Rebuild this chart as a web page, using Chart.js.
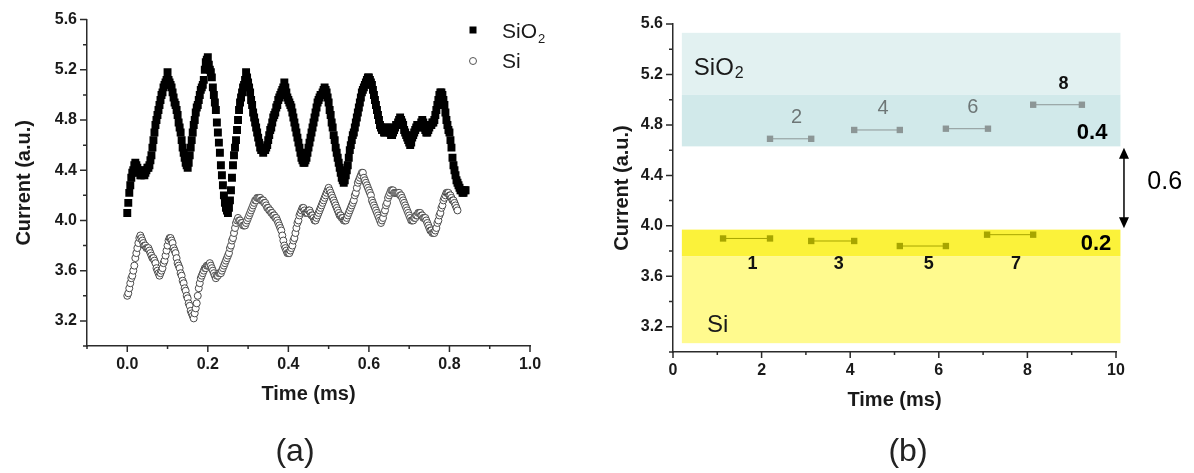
<!DOCTYPE html>
<html>
<head>
<meta charset="utf-8">
<title>Current vs time for SiO2 and Si</title>
<script src="https://cdn.jsdelivr.net/npm/chart.js@4/dist/chart.umd.min.js"></script>
<style>
  body { margin: 0; background: #fff; }
  #wrapA { position: absolute; left: 0; top: 0; width: 590px; height: 473px; }
  #wrapB { position: absolute; left: 590px; top: 0; width: 604px; height: 473px; }
</style>
</head>
<body>
<div id="wrapA"><canvas id="chartA" width="590" height="473"></canvas></div>
<div id="wrapB"><canvas id="chartB" width="604" height="473"></canvas></div>
<script>
// ---- panel (a): current traces, one reading every 0.0025 ms from t = 0
const sampleStep = 0.0025
const sio2Current = [
  4.06, 4.14, 4.22, 4.28, 4.34, 4.38, 4.40, 4.44, 4.46, 4.44,
  4.42, 4.40, 4.38, 4.36, 4.36, 4.38, 4.40, 4.36, 4.38, 4.40,
  4.42, 4.42, 4.44, 4.48, 4.52, 4.58, 4.64, 4.70, 4.76, 4.80,
  4.84, 4.88, 4.92, 4.96, 5.00, 5.02, 5.06, 5.08, 5.10, 5.12,
  5.18, 5.12, 5.10, 5.08, 5.06, 5.02, 4.98, 4.94, 4.92, 4.88,
  4.84, 4.78, 4.74, 4.70, 4.64, 4.58, 4.54, 4.50, 4.46, 4.44,
  4.42, 4.46, 4.52, 4.58, 4.64, 4.70, 4.76, 4.80, 4.86, 4.90,
  4.92, 4.96, 5.00, 5.04, 5.06, 5.08, 5.12, 5.20, 5.26, 5.28,
  5.30, 5.24, 5.20, 5.18, 5.14, 5.06, 5.00, 4.94, 4.88, 4.78,
  4.70, 4.62, 4.54, 4.44, 4.36, 4.28, 4.20, 4.14, 4.10, 4.08,
  4.06, 4.10, 4.16, 4.24, 4.34, 4.44, 4.52, 4.58, 4.64, 4.72,
  4.80, 4.88, 4.94, 4.98, 5.02, 5.06, 5.08, 5.12, 5.18, 5.14,
  5.10, 5.06, 5.02, 4.96, 4.92, 4.86, 4.82, 4.78, 4.74, 4.70,
  4.66, 4.62, 4.58, 4.56, 4.56, 4.54, 4.56, 4.56, 4.58, 4.60,
  4.64, 4.68, 4.72, 4.74, 4.78, 4.82, 4.84, 4.86, 4.90, 4.92,
  4.96, 4.98, 5.00, 5.02, 5.04, 5.06, 5.10, 5.06, 5.02, 4.98,
  4.96, 4.94, 4.92, 4.90, 4.86, 4.82, 4.78, 4.74, 4.70, 4.66,
  4.62, 4.58, 4.54, 4.50, 4.48, 4.46, 4.46, 4.48, 4.50, 4.54,
  4.58, 4.62, 4.66, 4.70, 4.74, 4.78, 4.82, 4.86, 4.90, 4.94,
  4.96, 4.98, 5.00, 5.00, 5.02, 5.04, 5.06, 5.04, 5.02, 4.98,
  4.94, 4.88, 4.84, 4.78, 4.74, 4.68, 4.64, 4.58, 4.54, 4.50,
  4.46, 4.42, 4.38, 4.34, 4.32, 4.30, 4.32, 4.36, 4.40, 4.44,
  4.50, 4.56, 4.60, 4.64, 4.68, 4.70, 4.74, 4.78, 4.82, 4.86,
  4.90, 4.94, 4.98, 5.02, 5.04, 5.06, 5.08, 5.10, 5.12, 5.14,
  5.14, 5.12, 5.10, 5.08, 5.04, 5.00, 4.96, 4.92, 4.88, 4.84,
  4.80, 4.76, 4.74, 4.72, 4.72, 4.70, 4.70, 4.72, 4.74, 4.74,
  4.72, 4.70, 4.68, 4.68, 4.70, 4.72, 4.74, 4.76, 4.76, 4.78,
  4.80, 4.82, 4.80, 4.78, 4.76, 4.72, 4.70, 4.68, 4.66, 4.64,
  4.62, 4.60, 4.62, 4.66, 4.68, 4.70, 4.72, 4.74, 4.76, 4.76,
  4.74, 4.76, 4.78, 4.80, 4.78, 4.74, 4.72, 4.70, 4.70, 4.72,
  4.74, 4.76, 4.76, 4.78, 4.78, 4.80, 4.84, 4.88, 4.92, 4.96,
  5.00, 5.02, 5.02, 5.00, 4.96, 4.92, 4.86, 4.80, 4.76, 4.72,
  4.70, 4.64, 4.58, 4.50, 4.44, 4.40, 4.36, 4.32, 4.30, 4.28,
  4.26, 4.24, 4.24, 4.22, 4.22, 4.24, 4.24
]
const siCurrent = [
  3.40, 3.42, 3.46, 3.50, 3.54, 3.56, 3.60, 3.64, 3.70, 3.74,
  3.78, 3.82, 3.86, 3.88, 3.86, 3.84, 3.82, 3.80, 3.80, 3.78,
  3.78, 3.78, 3.76, 3.74, 3.72, 3.70, 3.70, 3.68, 3.66, 3.62,
  3.60, 3.58, 3.56, 3.58, 3.60, 3.62, 3.66, 3.68, 3.72, 3.76,
  3.80, 3.84, 3.86, 3.86, 3.84, 3.82, 3.78, 3.76, 3.74, 3.70,
  3.66, 3.64, 3.62, 3.58, 3.56, 3.52, 3.50, 3.46, 3.44, 3.40,
  3.38, 3.34, 3.32, 3.28, 3.26, 3.24, 3.22, 3.26, 3.30, 3.34,
  3.40, 3.46, 3.50, 3.54, 3.56, 3.58, 3.60, 3.62, 3.62, 3.64,
  3.64, 3.64, 3.66, 3.64, 3.62, 3.60, 3.58, 3.56, 3.54, 3.56,
  3.56, 3.58, 3.58, 3.58, 3.60, 3.62, 3.64, 3.66, 3.68, 3.70,
  3.72, 3.74, 3.78, 3.80, 3.84, 3.86, 3.90, 3.94, 3.98, 4.00,
  4.02, 4.00, 4.00, 3.98, 3.98, 3.96, 3.96, 3.96, 3.98, 4.00,
  4.02, 4.04, 4.06, 4.08, 4.10, 4.12, 4.14, 4.16, 4.16, 4.18,
  4.18, 4.18, 4.18, 4.16, 4.16, 4.16, 4.14, 4.14, 4.12, 4.10,
  4.10, 4.08, 4.08, 4.06, 4.06, 4.04, 4.04, 4.02, 4.02, 4.00,
  3.98, 3.96, 3.94, 3.92, 3.88, 3.84, 3.80, 3.78, 3.76, 3.74,
  3.74, 3.74, 3.76, 3.78, 3.80, 3.84, 3.86, 3.90, 3.94, 3.98,
  4.00, 4.04, 4.06, 4.08, 4.10, 4.10, 4.08, 4.06, 4.06, 4.06,
  4.08, 4.08, 4.06, 4.04, 4.04, 4.02, 4.00, 4.00, 4.02, 4.04,
  4.06, 4.08, 4.10, 4.12, 4.14, 4.16, 4.18, 4.20, 4.22, 4.24,
  4.26, 4.24, 4.22, 4.20, 4.18, 4.16, 4.14, 4.12, 4.10, 4.08,
  4.06, 4.04, 4.04, 4.02, 4.02, 4.00, 4.00, 4.00, 4.02, 4.04,
  4.06, 4.08, 4.10, 4.12, 4.14, 4.16, 4.20, 4.22, 4.26, 4.30,
  4.32, 4.34, 4.36, 4.38, 4.38, 4.34, 4.32, 4.30, 4.28, 4.26,
  4.24, 4.22, 4.20, 4.16, 4.14, 4.12, 4.10, 4.08, 4.06, 4.04,
  4.02, 4.00, 3.98, 4.00, 4.02, 4.06, 4.08, 4.12, 4.14, 4.18,
  4.20, 4.22, 4.24, 4.24, 4.24, 4.22, 4.22, 4.22, 4.22, 4.22,
  4.22, 4.20, 4.20, 4.18, 4.16, 4.14, 4.12, 4.10, 4.08, 4.06,
  4.04, 4.02, 4.00, 4.00, 4.00, 4.02, 4.02, 4.04, 4.04, 4.06,
  4.06, 4.06, 4.04, 4.04, 4.02, 4.02, 4.02, 4.00, 3.98, 3.96,
  3.94, 3.92, 3.92, 3.90, 3.90, 3.90, 3.92, 3.94, 3.98, 4.00,
  4.04, 4.06, 4.10, 4.12, 4.16, 4.18, 4.20, 4.22, 4.22, 4.22,
  4.20, 4.20, 4.18, 4.16, 4.16, 4.14, 4.12, 4.10, 4.08
]

// ---- panel (b): mean current per interval, and the spread bands
const segmentNames = ['1', '2', '3', '4', '5', '6', '7', '8']
const segmentStart = [1.13, 2.19, 3.12, 4.09, 5.12, 6.16, 7.09, 8.13]
const segmentEnd = [2.19, 3.12, 4.09, 5.12, 6.16, 7.11, 8.13, 9.23]
const segmentCurrent = [3.90, 4.69, 3.88, 4.76, 3.84, 4.77, 3.93, 4.96]
const bandLow = [5.04, 4.63, 3.76, 3.07]
const bandHigh = [5.53, 5.04, 3.97, 3.76]
const bandFrom = 0.2
const bandTo = 10.1
const spreadLabels = ['0.4', '0.2']
const gapLabel = '0.6'

// styles
const axisColor = '#2b2b2b'
const textColor = '#1a1a1a'
const fontFamily = 'Arial, "Liberation Sans", sans-serif'
const tickFont = { family: fontFamily, size: 16, weight: 'bold' }
const titleFont = { family: fontFamily, size: 20, weight: 'bold' }
const bandColors = ['#e2f1f1', '#d1e9ea', '#fbf23a', '#fffa8e']
const segmentColors = ['#a7a500', '#8c9696']
const segmentLabelColors = ['#111', '#6d7676', '#111', '#6d7676', '#111', '#6d7676', '#111', '#111']

function majorOnly(origin, step, digits) {
  return function (value) {
    const k = Math.round((value - origin) / step)
    return Math.abs(value - origin - k * step) < 1e-6 ? value.toFixed(digits) : ''
  }
}

// short outward tick marks, long ones where a label is shown
const tickMarks = {
  id: 'tickMarks',
  afterDraw(chart) {
    const { ctx, chartArea, scales } = chart
    ctx.save()
    ctx.strokeStyle = axisColor
    ctx.lineWidth = 1.5
    ctx.beginPath()
    scales.x.ticks.forEach(t => {
      const px = scales.x.getPixelForValue(t.value)
      ctx.moveTo(px, chartArea.bottom)
      ctx.lineTo(px, chartArea.bottom + (t.label ? 6 : 3))
    })
    scales.y.ticks.forEach(t => {
      const py = scales.y.getPixelForValue(t.value)
      ctx.moveTo(chartArea.left, py)
      ctx.lineTo(chartArea.left - (t.label ? 7 : 4), py)
    })
    ctx.stroke()
    ctx.restore()
  }
}

function subText(ctx, main, sub, x, y, size, subSize, subDrop) {
  ctx.font = size + 'px ' + fontFamily
  ctx.fillText(main, x, y)
  const w = ctx.measureText(main).width
  ctx.font = subSize + 'px ' + fontFamily
  ctx.fillText(sub, x + w + 1, y + subDrop)
}

function axes(opts) {
  return {
    x: {
      type: 'linear', min: opts.xMin, max: opts.xMax,
      ticks: { stepSize: opts.xStep, autoSkip: false, maxRotation: 0, padding: 9, color: textColor, font: tickFont, callback: opts.xLabel },
      grid: { display: false, drawTicks: false },
      border: { display: true, color: axisColor, width: 1.5 },
      title: { display: true, text: 'Time (ms)', color: textColor, font: titleFont, padding: { top: 0, bottom: opts.xTitlePad } },
      afterFit: s => { s.height = opts.xHeight }
    },
    y: {
      type: 'linear', min: 3.0, max: 5.6,
      ticks: { stepSize: 0.2, autoSkip: false, padding: 10, color: textColor, font: tickFont, callback: majorOnly(3.2, 0.4, 1) },
      grid: { display: false, drawTicks: false },
      border: { display: true, color: axisColor, width: 1.5 },
      title: { display: true, text: 'Current (a.u.)', color: textColor, font: titleFont, padding: { top: opts.yTitlePad, bottom: 0 } },
      afterFit: s => { s.width = opts.yWidth }
    }
  }
}

// ---------- chart (a)
const panelA = {
  id: 'panelA',
  afterDraw(chart) {
    const ctx = chart.ctx
    ctx.save()
    ctx.fillStyle = '#000'
    ctx.fillRect(469.5, 26.5, 7, 7)
    ctx.fillStyle = '#fff'
    ctx.strokeStyle = '#555'
    ctx.lineWidth = 1
    ctx.beginPath()
    ctx.arc(473, 61, 3.5, 0, Math.PI * 2)
    ctx.fill()
    ctx.stroke()
    ctx.fillStyle = textColor
    ctx.textBaseline = 'alphabetic'
    subText(ctx, 'SiO', '2', 502, 38, 21, 13, 5)
    ctx.font = '21px ' + fontFamily
    ctx.fillText('Si', 502, 68)
    ctx.font = '32px ' + fontFamily
    ctx.fillStyle = '#222'
    ctx.textAlign = 'center'
    ctx.textBaseline = 'middle'
    ctx.fillText('(a)', 295, 452)
    ctx.restore()
  }
}

new Chart(document.getElementById('chartA'), {
  type: 'scatter',
  data: {
    datasets: [
      {
        label: 'SiO2',
        data: sio2Current.map((v, i) => ({ x: i * sampleStep, y: v })),
        pointStyle: 'rect', pointRadius: 5.6, borderWidth: 0,
        backgroundColor: '#000', borderColor: '#000'
      },
      {
        label: 'Si',
        data: siCurrent.map((v, i) => ({ x: i * sampleStep, y: v })),
        pointStyle: 'circle', pointRadius: 3.5, borderWidth: 1,
        backgroundColor: '#fff', borderColor: '#4a4a4a'
      }
    ]
  },
  options: {
    responsive: false,
    animation: false,
    layout: { padding: { left: 0, right: 60, top: 19, bottom: 60 } },
    plugins: { legend: { display: false }, tooltip: { enabled: false } },
    scales: axes({
      xMin: -0.1, xMax: 1.0, xStep: 0.1, xLabel: majorOnly(0, 0.2, 1),
      xHeight: 67, xTitlePad: 7, yWidth: 87, yTitlePad: 12
    })
  },
  plugins: [tickMarks, panelA]
})

// ---------- chart (b)
const panelB = {
  id: 'panelB',
  beforeDatasetsDraw(chart) {
    const { ctx, scales: { x, y } } = chart
    ctx.save()
    bandLow.forEach((lo, i) => {
      const x0 = x.getPixelForValue(bandFrom)
      const x1 = x.getPixelForValue(bandTo)
      const y0 = y.getPixelForValue(bandHigh[i])
      const y1 = y.getPixelForValue(lo)
      ctx.fillStyle = bandColors[i]
      ctx.fillRect(x0, y0, x1 - x0, y1 - y0)
    })
    ctx.restore()
  },
  afterDraw(chart) {
    const { ctx, scales: { x, y } } = chart
    ctx.save()
    ctx.fillStyle = textColor
    ctx.textBaseline = 'alphabetic'
    subText(ctx, 'SiO', '2', x.getPixelForValue(0.47), y.getPixelForValue(5.195), 24, 16, 3)
    ctx.font = '24px ' + fontFamily
    ctx.fillText('Si', x.getPixelForValue(0.77), y.getPixelForValue(3.16))

    // interval numbers
    ctx.textAlign = 'center'
    ctx.textBaseline = 'middle'
    segmentNames.forEach((name, i) => {
      const mid = x.getPixelForValue((segmentStart[i] + segmentEnd[i]) / 2) + 6
      const upper = segmentCurrent[i] > 4.3
      const py = upper ? y.getPixelForValue(segmentCurrent[i]) - 21 : y.getPixelForValue(3.76) + 8
      ctx.fillStyle = segmentLabelColors[i]
      ctx.font = (segmentLabelColors[i] === '#111' ? 'bold 18px ' : '20px ') + fontFamily
      ctx.fillText(name, mid, py)
    })

    // spread widths
    ctx.fillStyle = '#000'
    ctx.font = 'bold 22px "Liberation Sans Narrow", ' + fontFamily
    ctx.fillText(spreadLabels[0], x.getPixelForValue(9.46), y.getPixelForValue(4.74))
    ctx.fillText(spreadLabels[1], x.getPixelForValue(9.55), y.getPixelForValue(3.86))

    // gap between the bands
    const ax = x.getPixelForValue(10.18)
    const top = y.getPixelForValue(4.62)
    const bot = y.getPixelForValue(3.98)
    ctx.strokeStyle = '#000'
    ctx.lineWidth = 1.5
    ctx.beginPath()
    ctx.moveTo(ax, top + 8)
    ctx.lineTo(ax, bot - 8)
    ctx.stroke()
    ctx.beginPath()
    ctx.moveTo(ax, top); ctx.lineTo(ax - 5, top + 11); ctx.lineTo(ax + 5, top + 11); ctx.closePath()
    ctx.moveTo(ax, bot); ctx.lineTo(ax - 5, bot - 11); ctx.lineTo(ax + 5, bot - 11); ctx.closePath()
    ctx.fill()
    ctx.font = '25px ' + fontFamily
    ctx.fillText(gapLabel, x.getPixelForValue(11.1), y.getPixelForValue(4.35))

    ctx.font = '32px ' + fontFamily
    ctx.fillStyle = '#222'
    ctx.fillText('(b)', 318, 452)
    ctx.restore()
  }
}

new Chart(document.getElementById('chartB'), {
  type: 'scatter',
  data: {
    datasets: segmentNames.map((name, i) => {
      const c = segmentCurrent[i] > 4.3 ? segmentColors[1] : segmentColors[0]
      return {
        label: 'Interval ' + name,
        data: [{ x: segmentStart[i], y: segmentCurrent[i] }, { x: segmentEnd[i], y: segmentCurrent[i] }],
        showLine: true, borderWidth: 1, borderColor: c, backgroundColor: c,
        pointStyle: 'rect', pointRadius: 4.5, pointBorderWidth: 0
      }
    })
  },
  options: {
    responsive: false,
    animation: false,
    layout: { padding: { left: 0, right: 78, top: 24, bottom: 60 } },
    plugins: { legend: { display: false }, tooltip: { enabled: false } },
    scales: axes({
      xMin: 0, xMax: 10, xStep: 1, xLabel: majorOnly(0, 2, 0),
      xHeight: 61, xTitlePad: 1, yWidth: 83, yTitlePad: 20
    })
  },
  plugins: [tickMarks, panelB]
})
</script>
</body>
</html>
